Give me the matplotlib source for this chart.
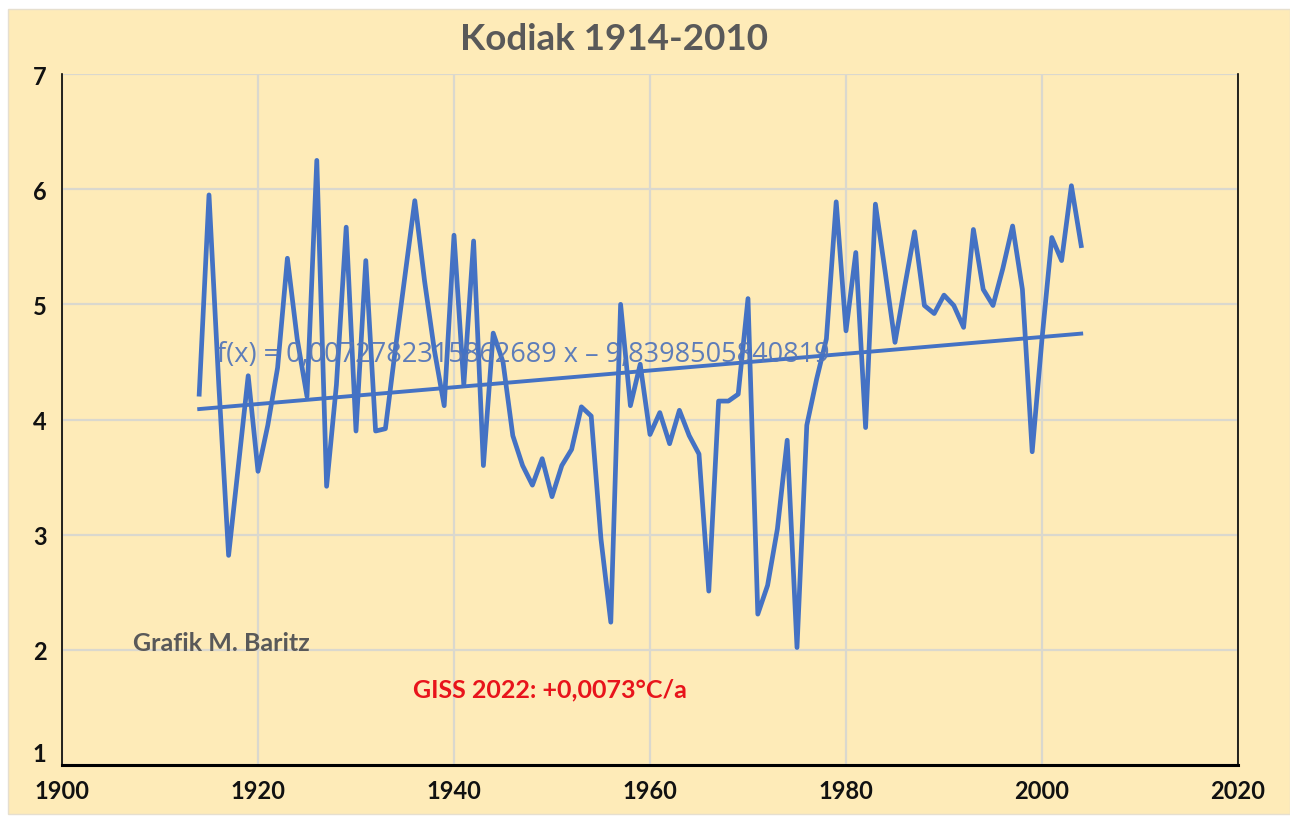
import matplotlib
matplotlib.use("Agg")
import matplotlib.pyplot as plt
from matplotlib.patches import Rectangle
import numpy as np

years = list(range(1914, 2005))
temps = [
    4.22, 5.95, 4.30, 2.82, 3.60, 4.38, 3.55, 3.95, 4.45, 5.40,  # 1914-1923
    4.70, 4.20, 6.25, 3.42, 4.30, 5.67, 3.90, 5.38, 3.90, 3.92,  # 1924-1933
    4.60, 5.25, 5.90, 5.20, 4.60, 4.12, 5.60, 4.30, 5.55, 3.60,  # 1934-1943
    4.75, 4.50, 3.86, 3.60, 3.43, 3.66, 3.33, 3.60, 3.74, 4.11,  # 1944-1953
    4.03, 2.96, 2.24, 5.00, 4.12, 4.48, 3.87, 4.06, 3.79, 4.08,  # 1954-1963
    3.86, 3.70, 2.51, 4.16, 4.16, 4.22, 5.05, 2.31, 2.56, 3.05,  # 1964-1973
    3.82, 2.02, 3.95, 4.35, 4.70, 5.89, 4.77, 5.45, 3.93, 5.87,  # 1974-1983
    5.28, 4.67, 5.16, 5.63, 4.99, 4.92, 5.08, 4.99, 4.80, 5.65,  # 1984-1993
    5.13, 4.99, 5.31, 5.68, 5.13, 3.72, 4.70, 5.58, 5.38, 6.03,  # 1994-2003
    5.51,                                                        # 2004
]
trend_slope = 0.0072782315862689
trend_intercept = -9.8398505840819
x_ticks = [1900, 1920, 1940, 1960, 1980, 2000, 2020]
y_ticks = [1, 2, 3, 4, 5, 6, 7]
title = "Kodiak 1914-2010"
formula_text = "f(x) = 0,0072782315862689 x – 9,8398505840819"
credit_text = "Grafik M. Baritz"
giss_text = "GISS 2022: +0,0073°C/a"

narrow = ["Lato", "DejaVu Sans"]
bg = "#FEEBB8"
blue = "#4472C4"

fig = plt.figure(figsize=(12.9, 8.2), dpi=100)
fig.patch.set_facecolor("white")
panel = Rectangle((8/1290, 5/820), 1 - 8/1290, 1 - 15/820,
                  transform=fig.transFigure, facecolor=bg,
                  edgecolor="#E6DFCF", linewidth=1.0, zorder=-10)
fig.add_artist(panel)

ax = fig.add_axes([62/1290, 1 - 766/820, (1238 - 62)/1290, (766 - 75)/820])
ax.set_zorder(1)
ax.set_facecolor(bg)
ax.set_xlim(1900, 2020)
ax.set_ylim(1, 7)
ax.set_xticks(x_ticks)
ax.set_yticks(y_ticks)
ax.grid(True, color="#DAD8CE", linewidth=1.6)
ax.set_axisbelow(True)
for s in ["left", "bottom", "right"]:
    ax.spines[s].set_color("black")
ax.spines["left"].set_linewidth(1.2)
ax.spines["right"].set_linewidth(1.2)
ax.spines["bottom"].set_linewidth(2.2)
ax.spines["top"].set_visible(False)
ax.tick_params(axis="x", length=0, pad=10)
ax.tick_params(axis="y", length=0, pad=11)
for lab in ax.get_xticklabels() + ax.get_yticklabels():
    lab.set_fontfamily(narrow)
    lab.set_fontweight("bold")
    lab.set_fontsize(17)
    lab.set_color("#111111")
ax.get_yticklabels()[0].set_va("bottom")

yr = np.array(years)
ax.plot(yr, temps, color=blue, linewidth=3.4, solid_joinstyle="round", zorder=3)
ax.plot([yr[0], yr[-1]], [trend_slope * yr[0] + trend_intercept,
                          trend_slope * yr[-1] + trend_intercept],
        color=blue, linewidth=2.8, zorder=3)

ax.text(1915.8, 4.57, formula_text, fontsize=19.5, color="#5577BA",
        family=["Open Sans", "DejaVu Sans"], alpha=0.95, zorder=4, va="center")
ax.text(1907.2, 2.06, credit_text, fontsize=18, color="#595959",
        family=narrow, fontweight="bold", va="center", zorder=4)
ax.text(1935.8, 1.66, giss_text, fontsize=18, color="#E8141B",
        family=narrow, fontweight="bold", va="center", zorder=4)

fig.text(614/1290, 1 - 40/820, title, fontsize=26.5, color="#595959",
         family=narrow, fontweight="bold", ha="center", va="center")

fig.savefig("out.png", dpi=100, facecolor=fig.get_facecolor())
